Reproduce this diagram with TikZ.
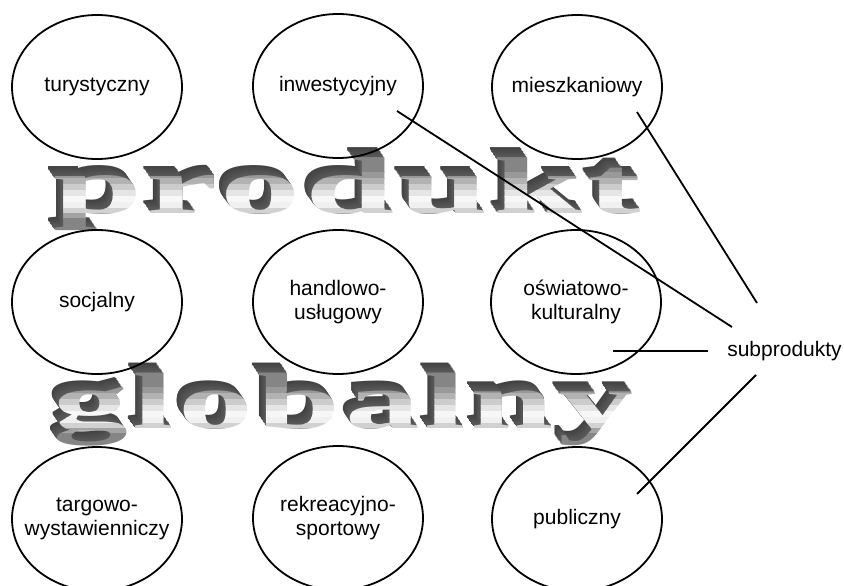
\documentclass[tikz,border=0pt]{standalone}
\usepackage{fontspec}
\setmainfont{Liberation Sans}
\newfontfamily\waface[LetterSpace=3]{Liberation Serif}
\usepackage{graphicx}
\usetikzlibrary{shapes.geometric}

\tikzset{
  oval/.style={ellipse,draw,line width=1.8pt,minimum width=170pt,minimum height=144pt,
    inner sep=-14pt,align=center,font=\fontsize{21}{23.5}\selectfont},
  label/.style={inner sep=0pt,font=\fontsize{21}{23.5}\selectfont},
  link/.style={line width=1.8pt},
  word/.style={anchor=north west,inner sep=0pt,outer sep=0pt},
}

\begin{document}
\begin{tikzpicture}[x=1pt,y=-1pt]
    \useasboundingbox (0,0) rectangle (844,586);

    % wordart: extruded copies, then the face in grey bands
    \foreach \nm/\word/\ytop/\wdt in {prod/produkt/158/588, glob/globalny/373/580} {
      \foreach \k [evaluate=\k as \sh using int(64+\k)] in {10,...,1}
        \node[word,text=black!\sh] (\nm\k) at ({53-0.7*\k},{\ytop-1.0*\k})
          {\resizebox*{\wdt pt}{73pt}{\waface\bfseries \word}};
      \foreach \ya/\yb/\col in {-20/14/black!48, 14/20/black!40, 20/26/black!30,
          26/32/black!20, 32/38/black!10, 38/44/black!3, 44/50/black!6,
          50/55/black!18, 55/60/black!36, 60/90/black!48} {
        \begin{scope}
          \clip (0,{\ytop+(\ya)}) rectangle (844,{\ytop+(\yb)});
          \node[word,text=\col] (\nm) at (53,\ytop)
            {\resizebox*{\wdt pt}{73pt}{\waface\bfseries \word}};
        \end{scope}
      }
    }

    % ovals
    \node[oval] (tur) at (97,87) {turystyczny};
    \node[oval] (inw) at (338,86) {inwestycyjny};
    \node[oval] (mie) at (577,87) {mieszkaniowy};
    \node[oval] (soc) at (97,302) {socjalny};
    \node[oval] (han) at (338,302) {handlowo-\\usługowy};
    \node[oval] (osw) at (576,302) {oświatowo-\\kulturalny};
    \node[oval] (tar) at (97,519) {targowo-\\wystawienniczy};
    \node[oval] (rek) at (338,518) {rekreacyjno-\\sportowy};
    \node[oval] (pub) at (577,519) {publiczny};

    \node[label] (sub) at (784.5,351) {subprodukty};

    % line ends
    \coordinate (inwA) at (397,111);
    \coordinate (mieA) at (637,112);
    \coordinate (oswA) at (613,351);
    \coordinate (pubA) at (637,494);
    \coordinate (subA) at (732,327);
    \coordinate (subB) at (757,303);
    \coordinate (subC) at (708,351);
    \coordinate (subD) at (756,375);

    % paths
    \draw[link] (inwA) -- (subA);
    \draw[link] (mieA) -- (subB);
    \draw[link] (oswA) -- (subC);
    \draw[link] (pubA) -- (subD);
\end{tikzpicture}
\end{document}
